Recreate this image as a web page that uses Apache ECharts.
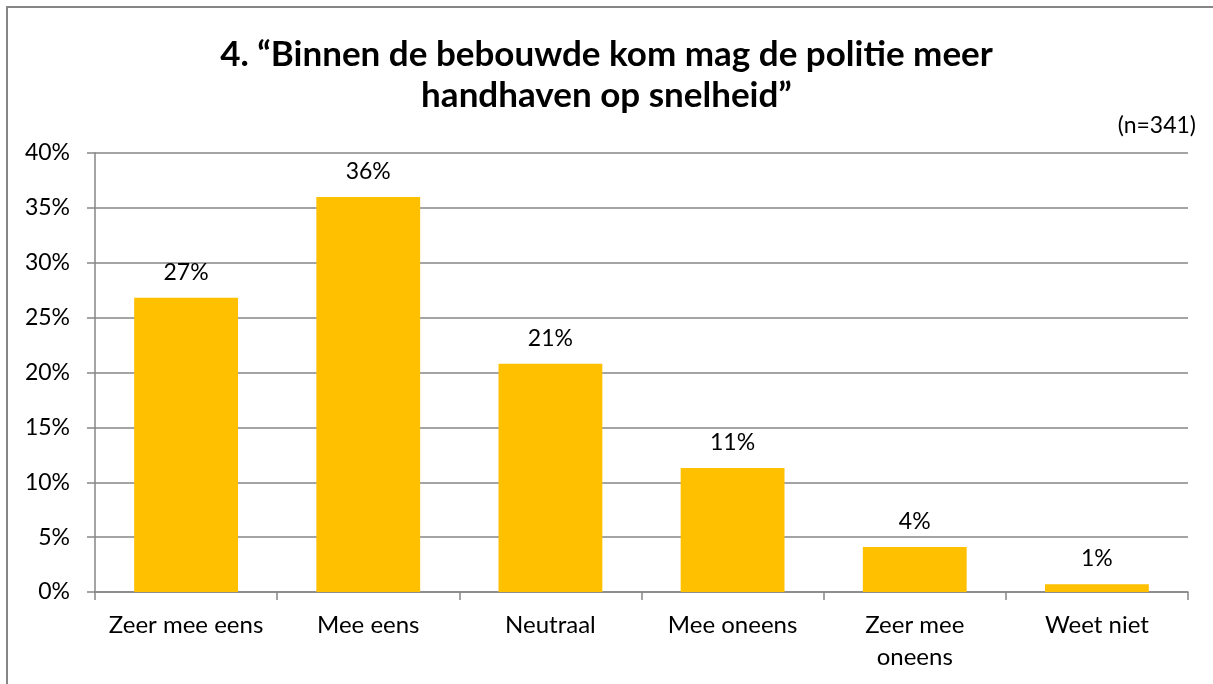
<!DOCTYPE html>
<html>
<head>
<meta charset="utf-8">
<script src="https://cdn.jsdelivr.net/npm/echarts@6/dist/echarts.min.js"></script>
<style>
html,body{margin:0;padding:0;background:#fff;}
#chart{width:1213px;height:684px;}
</style>
</head>
<body>
<div id="chart"></div>
<script>
const categories = ['Zeer mee eens', 'Mee eens', 'Neutraal', 'Mee oneens', 'Zeer mee oneens', 'Weet niet'];
const values = [26.8, 36.0, 20.8, 11.3, 4.1, 0.7];
const yTicks = { min: 0, max: 40, interval: 5 };
const titleText = '4. \u201cBinnen de bebouwde kom mag de politie meer\nhandhaven op snelheid\u201d';
const noteText = '(n=341)';

const FONT = 'Lato';
const chart = echarts.init(document.getElementById('chart'), null, { renderer: 'canvas' });
chart.setOption({
  animation: false,
  backgroundColor: '#ffffff',
  textStyle: { fontFamily: FONT },
  graphic: [{
    type: 'rect', silent: true, z: -1,
    shape: { x: 7, y: 7, width: 1400, height: 900 },
    style: { fill: 'none', stroke: '#868686', lineWidth: 2 }
  }],
  title: [{
    text: titleText,
    left: 'center',
    top: 29,
    textStyle: { fontFamily: FONT, fontSize: 35, fontWeight: 'bold', color: '#000', lineHeight: 41 }
  }, {
    text: noteText,
    right: 12,
    top: 108,
    textStyle: { fontFamily: FONT, fontSize: 23, fontWeight: 'normal', color: '#000', lineHeight: 26 }
  }],
  grid: { left: 95, right: 25, top: 153, bottom: 92, containLabel: false },
  xAxis: {
    type: 'category',
    data: categories,
    axisLine: { lineStyle: { color: '#868686', width: 1.5 } },
    axisTick: { show: true, length: 8, lineStyle: { color: '#868686', width: 1.5 } },
    axisLabel: {
      color: '#000', fontSize: 24, fontFamily: FONT, margin: 17, lineHeight: 32, interval: 0,
      formatter: function (v) {
        if (v.length > 14) { const i = v.lastIndexOf(' '); return v.slice(0, i) + '\n' + v.slice(i + 1); }
        return v;
      }
    }
  },
  yAxis: {
    type: 'value',
    min: yTicks.min, max: yTicks.max, interval: yTicks.interval,
    axisLine: { show: true, lineStyle: { color: '#868686', width: 1.5 } },
    axisTick: { show: true, length: 8, lineStyle: { color: '#868686', width: 1.5 } },
    splitLine: { show: true, lineStyle: { color: '#868686', width: 1.5 } },
    axisLabel: { color: '#000', fontSize: 23, fontFamily: FONT, margin: 25, formatter: '{value}%' }
  },
  series: [{
    type: 'bar',
    data: values,
    barCategoryGap: '43%',
    itemStyle: { color: '#FFC000' },
    label: {
      show: true, position: 'top', distance: 14, color: '#000', fontSize: 23, fontFamily: FONT,
      formatter: function (p) { return Math.round(p.value) + '%'; }
    }
  }]
});
</script>
</body>
</html>
